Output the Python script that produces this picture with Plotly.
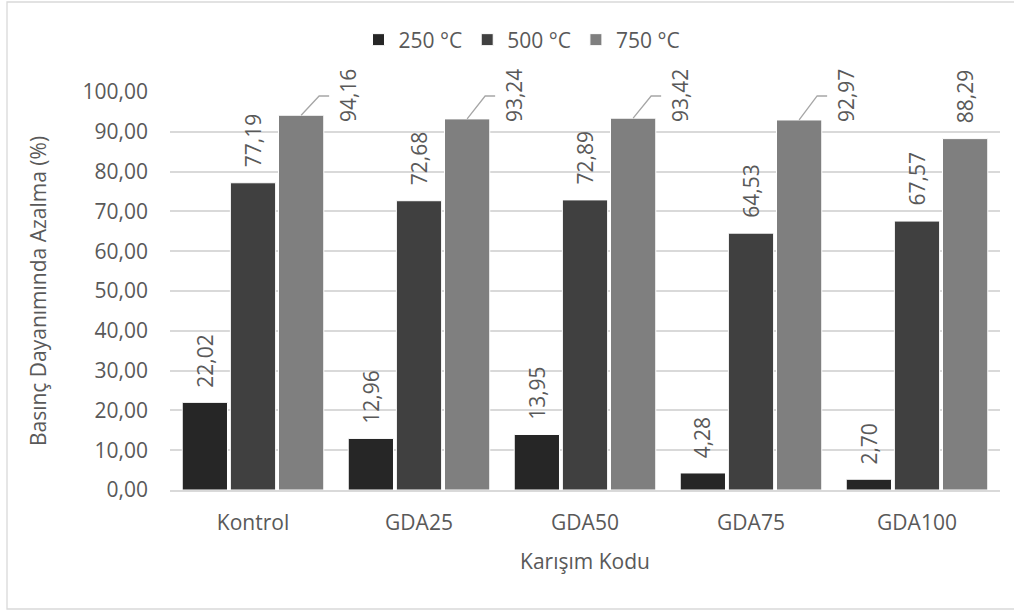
import plotly.graph_objects as go

# Compressive strength loss (%) per mix, after exposure to each temperature
categories = ["Kontrol", "GDA25", "GDA50", "GDA75", "GDA100"]
series_names = ["250 °C", "500 °C", "750 °C"]
loss_250 = [22.02, 12.96, 13.95, 4.28, 2.70]
loss_500 = [77.19, 72.68, 72.89, 64.53, 67.57]
loss_750 = [94.16, 93.24, 93.42, 92.97, 88.29]
y_ticks = [0, 10, 20, 30, 40, 50, 60, 70, 80, 90, 100]

colors = ["#262626", "#404040", "#7f7f7f"]
FONT = "Open Sans"
FS = 21
TEXT_COLOR = "#595959"
GRID = "#d9d9d9"

# plot-area geometry (pixels) used for label offsets and the frame
W, H = 1014, 612
L, R, T, B = 170, 14, 92, 122
plot_w = W - L - R
plot_h = H - T - B

BARGAP = 0.13
BARGROUPGAP = 0.06
slot = (1 - BARGAP) / 3
offsets = [-slot, 0.0, slot]

x_idx = list(range(len(categories)))
all_series = [loss_250, loss_500, loss_750]

fig = go.Figure()
for name, vals, col in zip(series_names, all_series, colors):
    fig.add_trace(go.Bar(
        x=x_idx, y=vals, name=name,
        marker=dict(color=col, line=dict(color="#ffffff", width=1)),
        hoverinfo="x+y+name",
    ))

annotations = []
shapes = []
px_per_x = plot_w / 5.0
ELBOW_Y = 99.0           # height of the leader-line elbow (axis units)
LEADER_DX1 = 18 / px_per_x
LEADER_DX2 = 28 / px_per_x
LABEL_DX = 47 / px_per_x

for s, vals in enumerate(all_series):
    for i, v in enumerate(vals):
        xc = i + offsets[s]
        txt = f"{v:.2f}".replace(".", ",")
        if s == 2 and v > 90:
            # label lifted to the side with a bent leader line
            shapes.append(dict(
                type="path", xref="x", yref="y",
                path=f"M {xc} {v} L {xc + LEADER_DX1} {ELBOW_Y} L {xc + LEADER_DX2} {ELBOW_Y}",
                line=dict(color="#a6a6a6", width=1.3),
            ))
            annotations.append(dict(
                x=xc + LABEL_DX, y=ELBOW_Y, xref="x", yref="y",
                text=txt, textangle=-90, showarrow=False,
                xanchor="center", yanchor="middle",
                font=dict(family=FONT, size=FS, color=TEXT_COLOR),
            ))
        else:
            annotations.append(dict(
                x=xc, y=v, xref="x", yref="y",
                text=txt, textangle=-90, showarrow=False,
                xanchor="center", yanchor="bottom", yshift=13,
                font=dict(family=FONT, size=FS, color=TEXT_COLOR),
            ))

# outer chart frame
fx0 = (7 - L) / plot_w
fx1 = (1016 - L) / plot_w
fy0 = -(609 - (T + plot_h)) / plot_h
fy1 = ((T + plot_h) - 2) / plot_h
shapes.append(dict(type="rect", xref="paper", yref="paper",
                   x0=fx0, x1=fx1, y0=fy0, y1=fy1,
                   line=dict(color="#d9d9d9", width=1.3), layer="below"))

fig.update_layout(
    width=W, height=H,
    margin=dict(l=L, r=R, t=T, b=B),
    paper_bgcolor="white", plot_bgcolor="white",
    barmode="group", bargap=BARGAP, bargroupgap=BARGROUPGAP,
    separators=",.",
    font=dict(family=FONT, size=FS, color=TEXT_COLOR),
    legend=dict(orientation="h", x=(522 - L) / plot_w, xanchor="center",
                y=1.0 + (T - 40) / plot_h, yanchor="middle",
                font=dict(family=FONT, size=FS, color=TEXT_COLOR),
                traceorder="normal", itemwidth=30),
    annotations=annotations,
    shapes=shapes,
    xaxis=dict(
        range=[-0.5, 4.5], tickmode="array", tickvals=x_idx, ticktext=categories,
        showgrid=False, zeroline=False, showline=True, linecolor=GRID, linewidth=1.5,
        ticks="", ticklabelstandoff=13,
        title=dict(text="Karışım Kodu", standoff=19,
                   font=dict(family=FONT, size=FS, color=TEXT_COLOR)),
        tickfont=dict(family=FONT, size=FS, color=TEXT_COLOR),
        fixedrange=True,
    ),
    yaxis=dict(
        range=[0, 100], tickmode="array", tickvals=y_ticks, tickformat=".2f",
        showgrid=True, gridcolor=GRID, gridwidth=1.5, zeroline=False,
        showline=False, ticks="", ticklabelstandoff=21,
        title=dict(text="Basınç Dayanımında Azalma (%)", standoff=30,
                   font=dict(family=FONT, size=FS, color=TEXT_COLOR)),
        tickfont=dict(family=FONT, size=FS, color=TEXT_COLOR),
        fixedrange=True,
    ),
)

fig.write_html("out.html")
